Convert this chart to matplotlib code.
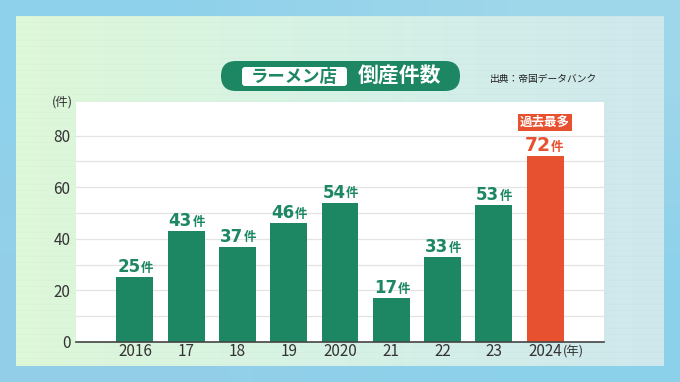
import numpy as np
import matplotlib
matplotlib.use("Agg")
import matplotlib.pyplot as plt
from matplotlib.patches import FancyBboxPatch

plt.rcParams['font.family'] = ['Noto Sans CJK JP', 'DejaVu Sans']

# data
years = ['2016', '17', '18', '19', '2020', '21', '22', '23', '2024']
counts = [25, 43, 37, 46, 54, 17, 33, 53, 72]
highlight = '2024'

GREEN = '#1c8762'
RED = '#e85130'
TEXT = '#333333'

W, H = 680, 382
fig = plt.figure(figsize=(W / 100, H / 100), dpi=100)

# background in pixel coords
bg = fig.add_axes([0, 0, 1, 1], zorder=0)
bg.axis('off')

# outer blue
outer = np.zeros((2, 2, 3))
outer[0, 0] = [0.56, 0.82, 0.92]
outer[0, 1] = [0.62, 0.84, 0.92]
outer[1, 0] = [0.58, 0.81, 0.91]
outer[1, 1] = [0.55, 0.82, 0.92]
bg.imshow(outer, extent=(0, W, H, 0), interpolation='bilinear', aspect='auto')

# inner panel: green -> light blue, faint horizontal stripes
nx, ny = 200, 350
tx = np.linspace(0, 1, nx)
left_c = np.array([0.87, 0.97, 0.85])
mid_c = np.array([0.84, 0.95, 0.90])
right_c = np.array([0.81, 0.91, 0.93])
cols = np.where(tx[:, None] < 0.5,
                left_c + (mid_c - left_c) * (tx[:, None] / 0.5),
                mid_c + (right_c - mid_c) * ((tx[:, None] - 0.5) / 0.5))
panel = np.repeat(cols[None, :, :], ny, axis=0)
stripe = (np.arange(ny) % 6 < 1) * 0.012
panel = np.clip(panel - stripe[:, None, None], 0, 1)
bg.imshow(panel, extent=(16, 664, 366, 16), interpolation='bilinear', aspect='auto')
bg.set_xlim(0, W)
bg.set_ylim(H, 0)

# title pill
bg.add_patch(FancyBboxPatch((221, 61), 239, 30, boxstyle='round,pad=0,rounding_size=15',
                            fc=GREEN, ec='none'))
bg.add_patch(FancyBboxPatch((242, 67), 105, 19, boxstyle='round,pad=0,rounding_size=3',
                            fc='white', ec='none'))
bg.text(294.5, 76.5, 'ラーメン店', color=GREEN, fontsize=12.5, fontweight='bold',
        ha='center', va='center')
bg.text(400, 76, '倒産件数', color='white', fontsize=15, fontweight='bold',
        ha='center', va='center')
bg.text(490, 79, '出典：帝国データバンク', color='#222222', fontsize=7,
        ha='left', va='center')

# main chart
ax = fig.add_axes([76 / W, 1 - 342 / H, (604 - 76) / W, (342 - 102) / H], zorder=1)
ax.set_facecolor('white')
x = np.arange(len(years))
colors = [RED if y == highlight else GREEN for y in years]
ax.bar(x, counts, width=0.72, color=colors, zorder=2)

ax.set_xlim(-1.15, len(years) - 1 + 1.15)
ax.set_ylim(0, 93)
ax.set_yticks(range(0, 81, 20))
for g in range(10, 81, 10):
    ax.axhline(g, color='#e3e3e3', lw=0.9, zorder=1)
for s in ['top', 'right', 'left']:
    ax.spines[s].set_visible(False)
ax.spines['bottom'].set_color('#444444')
ax.spines['bottom'].set_linewidth(1.2)
ax.tick_params(length=0, colors=TEXT, labelsize=11)
ax.tick_params(axis='y', pad=4)
ax.tick_params(axis='x', pad=1)
ax.set_xticks(x)
ax.set_xticklabels(years)

ax.text(-0.005, 1.0, '(件)', transform=ax.transAxes, ha='right', va='center',
        fontsize=9, color=TEXT)
ax.annotate('(年)', xy=(len(years) - 1, 0), xytext=(12.5, -7.5), textcoords='offset points',
            ha='left', va='center', fontsize=9, color=TEXT, annotation_clip=False)

# value labels
for xi, y, v in zip(x, years, counts):
    c = RED if y == highlight else GREEN
    big = 13.5 if y == highlight else 12
    ax.annotate(str(v), xy=(xi, v), xytext=(4, 3.6), textcoords='offset points',
                ha='right', va='baseline', fontsize=big, fontweight='bold', color=c,
                family='DejaVu Sans')
    ax.annotate('件', xy=(xi, v), xytext=(4.5, 3.8), textcoords='offset points',
                ha='left', va='baseline', fontsize=9, fontweight='bold', color=c)
    if y == highlight:
        ax.annotate('過去最多', xy=(xi, v), xytext=(0, 19.5), textcoords='offset points',
                    ha='center', va='bottom', fontsize=9, fontweight='bold', color='white',
                    bbox=dict(boxstyle='square,pad=0.15', fc=RED, ec='none'))

fig.savefig('out.png', dpi=100)
